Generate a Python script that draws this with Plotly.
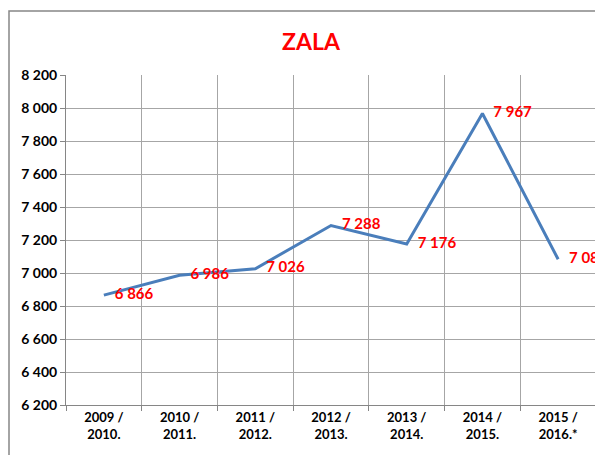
import plotly.graph_objects as go

# school years and values
years = ["2009 /<br>2010.", "2010 /<br>2011.", "2011 /<br>2012.", "2012 /<br>2013.",
         "2013 /<br>2014.", "2014 /<br>2015.", "2015 /<br>2016.*"]
values = [6866, 6986, 7026, 7288, 7176, 7967, 7083]
y_ticks = list(range(6200, 8201, 200))


def fmt(v):
    return f"{v:,}".replace(",", " ")


font = "Lato, 'Open Sans', Arial, sans-serif"
OFF = 8  # page body margin shifts the figure by 8px
W, H = 603 - OFF, 455 - OFF
ml, mr, mt, mb = 66 - OFF, 7, 75 - OFF, 50
pw, ph = W - ml - mr, H - mt - mb

fig = go.Figure()
fig.add_trace(go.Scatter(
    x=years, y=values, mode="lines+text",
    line=dict(color="#4A7EBB", width=3),
    text=[f"<b>\u00a0\u00a0\u00a0{fmt(v)}</b>" for v in values], textposition="middle right",
    textfont=dict(family=font, size=15, color="#FF0000"),
    cliponaxis=False, showlegend=False))

fig.update_layout(
    width=W, height=H,
    margin=dict(l=ml, r=mr, t=mt, b=mb, autoexpand=False),
    paper_bgcolor="white", plot_bgcolor="white",
    title=dict(text="<b>ZALA</b>", x=(311 - OFF) / W, xref="container", xanchor="center",
               y=1 - (42 - OFF) / H, yref="container", yanchor="middle",
               font=dict(family=font, size=23, color="#FF0000")),
    font=dict(family=font, size=13, color="black"),
)
fig.update_xaxes(
    type="category", tickson="boundaries", ticks="outside", ticklen=5,
    tickcolor="#868686", showgrid=True, gridcolor="#A6A6A6", gridwidth=1,
    showline=True, linecolor="#868686", linewidth=1, automargin=False,
    tickvals=years, ticktext=[f"<b>{y}</b>" for y in years],
    tickfont=dict(family=font, size=13, color="black"),
    range=[-0.5, 6.5])
fig.update_yaxes(
    range=[6200, 8200], tickvals=y_ticks, ticktext=[f"<b>{fmt(v)}</b>" for v in y_ticks],
    ticks="outside", ticklen=5, tickcolor="#868686", automargin=False,
    showgrid=True, gridcolor="#A6A6A6", gridwidth=1,
    showline=True, linecolor="#868686", linewidth=1, zeroline=False,
    tickfont=dict(family=font, size=14, color="black"))

# outer chart-area border (the image is cropped on the right and bottom)
fig.add_shape(type="rect", xref="paper", yref="paper",
              x0=(9 - OFF - ml) / pw, x1=(W + 20 - ml) / pw,
              y0=-(H + 20 - mt - ph) / ph, y1=1 + (mt - 11 + OFF) / ph,
              line=dict(color="#868686", width=1.5), layer="below")

fig.write_html("out.html")
